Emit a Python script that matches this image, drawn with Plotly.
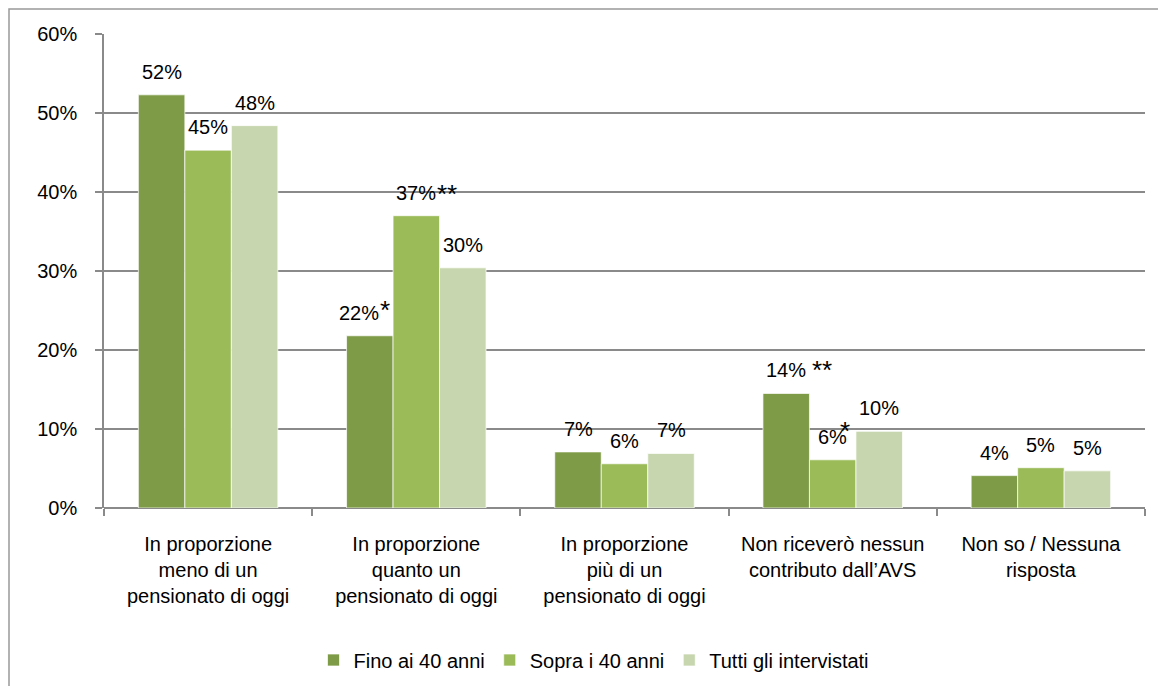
import plotly.graph_objects as go

categories = [
    "In proporzione<br>meno di un<br>pensionato di oggi",
    "In proporzione<br>quanto un<br>pensionato di oggi",
    "In proporzione<br>più di un<br>pensionato di oggi",
    "Non riceverò nessun<br>contributo dall’AVS",
    "Non so / Nessuna<br>risposta",
]
series_names = ["Fino ai 40 anni", "Sopra i 40 anni", "Tutti gli intervistati"]
fino_40 = [0.523, 0.218, 0.071, 0.145, 0.041]
sopra_40 = [0.453, 0.370, 0.056, 0.061, 0.051]
tutti = [0.484, 0.304, 0.069, 0.097, 0.047]
series_values = [fino_40, sopra_40, tutti]
colors = ["#7E9B47", "#9BBB59", "#C7D6AE"]
y_ticks = [0, 0.1, 0.2, 0.3, 0.4, 0.5, 0.6]
y_tick_labels = ["0%", "10%", "20%", "30%", "40%", "50%", "60%"]
# significance marks: (series index, category index, text, xshift, yshift)
stars = [
    (0, 1, "*", 15, 30),
    (1, 1, "**", 31, 26),
    (0, 3, "**", 36, 27),
    (1, 3, "*", 12, 33),
]
label_xshift = {(0, 1): -11}

FONT = "Liberation Sans, Arial, sans-serif"
FS = 20
bargap = 0.33
W, H = 1158, 686
L, R, T, B = 104, 13, 34, 178

fig = go.Figure()
for name, vals, col in zip(series_names, series_values, colors):
    fig.add_trace(go.Bar(
        x=list(range(len(categories))), y=vals, name=name,
        marker=dict(color=col, line=dict(color="rgba(255,255,255,0.7)", width=1)),
    ))

annotations = []
bw = (1 - bargap) / 3
for j, vals in enumerate(series_values):
    for i, v in enumerate(vals):
        annotations.append(dict(
            x=i + (j - 1) * bw, y=v, xref="x", yref="y",
            text=f"{round(v * 100):d}%", showarrow=False,
            xanchor="center", yanchor="middle",
            yshift=23, xshift=label_xshift.get((j, i), 0),
            font=dict(family=FONT, size=FS, color="#000000"),
        ))
for j, i, txt, dx, dy in stars:
    v = series_values[j][i]
    annotations.append(dict(
        x=i + (j - 1) * bw, y=v, xref="x", yref="y",
        text=txt, showarrow=False, xanchor="center", yanchor="middle",
        xshift=dx, yshift=dy - 4,
        font=dict(family=FONT, size=26, color="#000000"),
    ))

pw = W - L - R
ph = H - T - B
def px_x(x):
    return (x - L) / pw
def px_y(y):
    return (H - B - y) / ph

fig.update_layout(
    width=W, height=H,
    margin=dict(l=L, r=R, t=T, b=B, autoexpand=False),
    paper_bgcolor="white", plot_bgcolor="white",
    barmode="group", bargap=bargap, bargroupgap=0,
    font=dict(family=FONT, size=FS, color="#000000"),
    showlegend=True,
    legend=dict(orientation="h", x=px_x(594), xanchor="center", y=px_y(660), yanchor="middle",
                font=dict(family=FONT, size=FS, color="#000000"),
                traceorder="normal", itemwidth=30, tracegroupgap=0),
    annotations=annotations,
    shapes=[dict(type="rect", xref="paper", yref="paper",
                 x0=px_x(9), x1=px_x(1170), y0=px_y(700), y1=px_y(9),
                 line=dict(color="#999999", width=1.5), layer="below")],
)
fig.update_xaxes(
    type="linear", range=[-0.5, len(categories) - 0.5],
    tickmode="array", tickvals=list(range(len(categories))), ticktext=categories,
    showgrid=False, zeroline=False,
    showline=False,
    ticks="", tickfont=dict(family=FONT, size=FS, color="#000000"),
    ticklabelstandoff=22,
)
# boundary tick marks via minor ticks
fig.update_xaxes(minor=dict(tickmode="array", tickvals=[k - 0.5 for k in range(len(categories) + 1)],
                            ticks="outside", ticklen=7, tickcolor="#8A8A8A", tickwidth=1.5,
                            showgrid=False))
fig.update_yaxes(
    range=[0, 0.6], tickvals=y_ticks, ticktext=y_tick_labels,
    showgrid=True, gridcolor="#8A8A8A", gridwidth=1.5,
    zeroline=True, zerolinecolor="#8A8A8A", zerolinewidth=1.5,
    showline=True, linecolor="#8A8A8A", linewidth=1.5,
    ticks="outside", ticklen=7, tickcolor="#8A8A8A", tickwidth=1.5,
    tickfont=dict(family=FONT, size=FS, color="#000000"),
    ticklabelstandoff=14,
)
fig.write_html("out.html", config={"displayModeBar": False},
               post_script="document.body.style.margin='0';document.body.style.overflow='hidden';")
